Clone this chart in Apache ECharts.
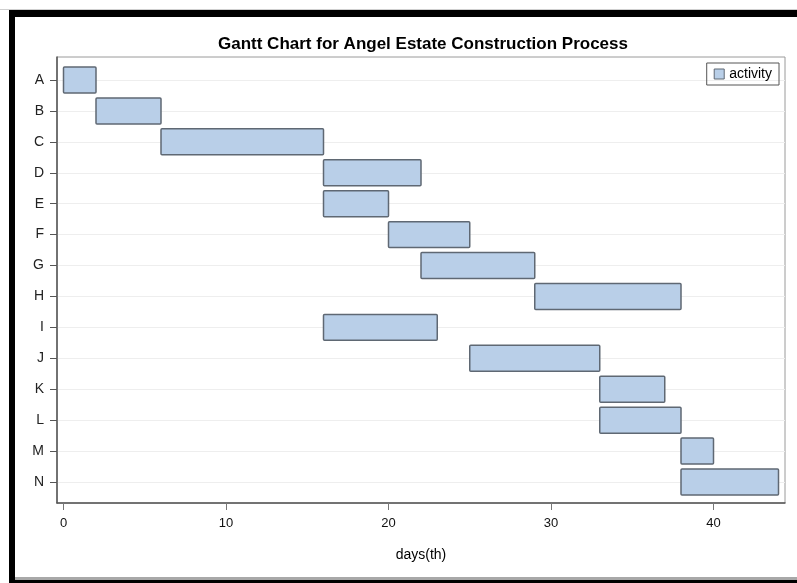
<!DOCTYPE html>
<html>
<head>
<meta charset="utf-8">
<script src="https://cdn.jsdelivr.net/npm/echarts@6/dist/echarts.min.js"></script>
<style>
  html, body { margin: 0; padding: 0; background: #fff; }
  #chart { width: 797px; height: 583px; }
</style>
</head>
<body>
<div id="chart"></div>
<script>
// activities and their start / end day
const activities = ['A', 'B', 'C', 'D', 'E', 'F', 'G', 'H', 'I', 'J', 'K', 'L', 'M', 'N'];
const startDays = [0, 2, 6, 16, 16, 20, 22, 29, 16, 25, 33, 33, 38, 38];
const endDays = [2, 6, 16, 22, 20, 25, 29, 38, 23, 33, 37, 38, 40, 44];
const dayTicks = [0, 10, 20, 30, 40];

const barFill = '#b9cfe8';
const barStroke = '#5f6873';
const fontFamily = '"Liberation Sans", Arial, sans-serif';

const chart = echarts.init(document.getElementById('chart'));

const ganttData = activities.map((a, i) => [i, startDays[i], endDays[i]]);

const option = {
  animation: false,
  textStyle: { fontFamily: fontFamily },
  title: {
    text: 'Gantt Chart for Angel Estate Construction Process',
    left: 213,
    top: 31,
    textStyle: { fontSize: 17, fontWeight: 'bold', color: '#000', fontFamily: fontFamily }
  },
  legend: {
    right: 18,
    top: 63,
    orient: 'horizontal',
    borderColor: '#555',
    borderWidth: 1,
    padding: [4, 7, 4, 7],
    itemWidth: 10,
    itemHeight: 10,
    itemGap: 5,
    textStyle: { fontSize: 14, color: '#000' },
    data: [{ name: 'activity', icon: 'rect', itemStyle: { color: barFill, borderColor: barStroke, borderWidth: 1 } }]
  },
  grid: [
    // frame of the plot area
    { left: 57, top: 57, width: 728, height: 446, show: true, borderColor: '#9a9a9a', borderWidth: 1 },
    // grid holding the bars, categories from first to last tick
    { left: 57, top: 80, width: 728, height: 402 }
  ],
  xAxis: [
    {
      gridIndex: 0,
      type: 'value',
      min: -0.4,
      max: 44.4,
      name: 'days(th)',
      nameLocation: 'middle',
      nameGap: 45,
      nameTextStyle: { fontSize: 14, color: '#000' },
      axisLine: { show: true, onZero: false, lineStyle: { color: '#555', width: 1.5 } },
      axisTick: { show: true, length: 7, lineStyle: { color: '#777' }, customValues: dayTicks },
      axisLabel: { fontSize: 13, color: '#111', margin: 14, customValues: dayTicks },
      splitLine: { show: false }
    },
    { gridIndex: 1, type: 'value', min: -0.4, max: 44.4, show: false }
  ],
  yAxis: [
    {
      gridIndex: 0,
      type: 'value',
      axisLine: { show: true, onZero: false, lineStyle: { color: '#555', width: 1.5 } },
      axisTick: { show: false },
      axisLabel: { show: false },
      splitLine: { show: false }
    },
    {
      gridIndex: 1,
      type: 'category',
      data: activities,
      inverse: true,
      boundaryGap: false,
      position: 'left',
      axisLine: { show: false, onZero: false },
      axisTick: { show: true, inside: false, length: 7, lineStyle: { color: '#555', width: 1 } },
      axisLabel: { fontSize: 14, color: '#222', margin: 13 },
      splitLine: { show: true, lineStyle: { color: '#eeeeee', width: 1 } }
    }
  ],
  series: [
    {
      name: 'activity',
      type: 'custom',
      xAxisIndex: 1,
      yAxisIndex: 1,
      encode: { x: [1, 2], y: 0 },
      itemStyle: { color: barFill, borderColor: barStroke },
      data: ganttData,
      renderItem: (params, api) => {
        const cat = api.value(0);
        const p0 = api.coord([api.value(1), cat]);
        const p1 = api.coord([api.value(2), cat]);
        const h = api.size([0, 1])[1] * 0.84;
        return {
          type: 'rect',
          shape: { x: p0[0], y: p0[1] - h / 2, width: p1[0] - p0[0], height: h, r: 1 },
          style: { fill: barFill, stroke: barStroke, lineWidth: 1.5 }
        };
      }
    }
  ],
  graphic: [
    // black border of the screenshot
    { type: 'rect', shape: { x: 9, y: 10, width: 788, height: 7 }, style: { fill: '#000' }, silent: true },
    { type: 'rect', shape: { x: 9, y: 10, width: 6, height: 573 }, style: { fill: '#000' }, silent: true },
    { type: 'rect', shape: { x: 15, y: 577, width: 782, height: 3 }, style: { fill: '#a8a8a8' }, silent: true },
    { type: 'rect', shape: { x: 15, y: 580, width: 782, height: 3 }, style: { fill: '#000' }, silent: true },
    { type: 'rect', shape: { x: 0, y: 9, width: 797, height: 1 }, style: { fill: '#cfcfcf' }, silent: true }
  ]
};

chart.setOption(option);
</script>
</body>
</html>
